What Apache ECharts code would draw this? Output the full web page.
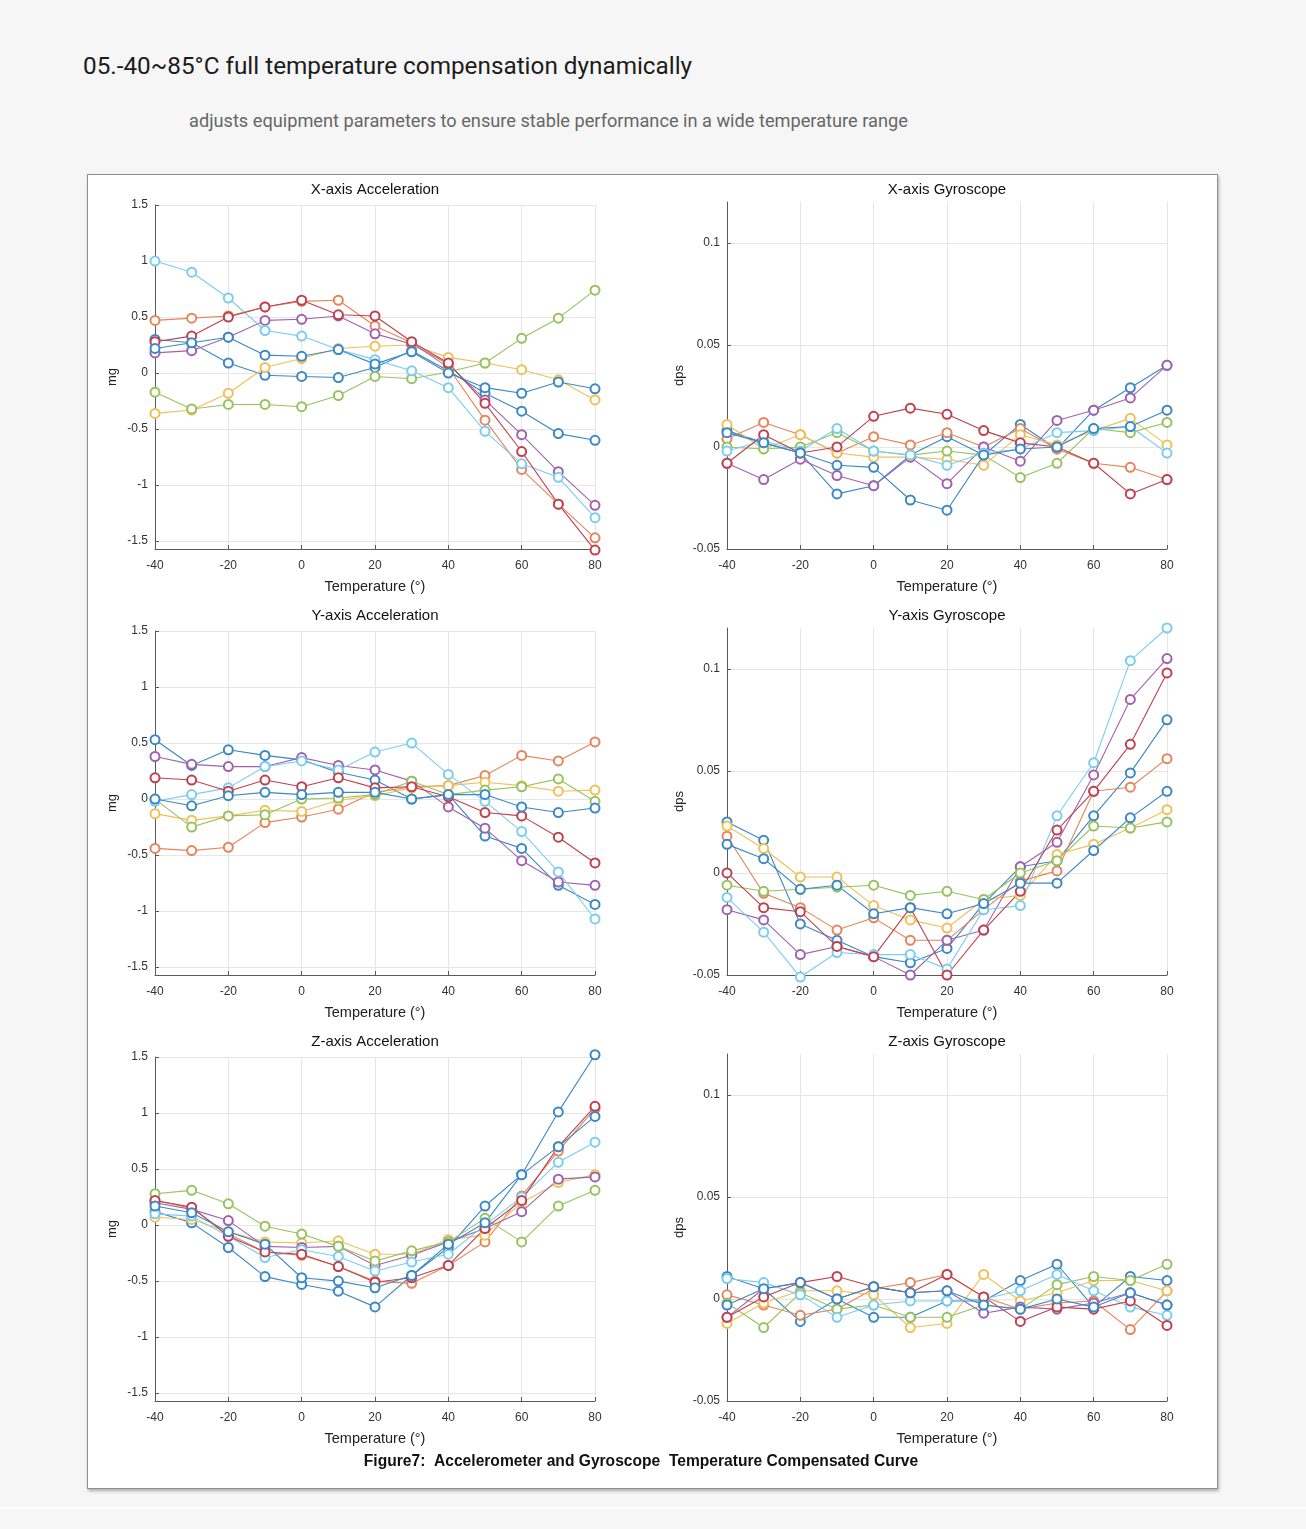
<!DOCTYPE html>
<html>
<head>
<meta charset="utf-8">
<script src="https://cdn.jsdelivr.net/npm/echarts@6/dist/echarts.min.js"></script>
<style>
html,body{margin:0;padding:0;background:#f6f6f6;}
#page{position:relative;width:1306px;height:1529px;overflow:hidden;background:#f6f6f6;}
#band{position:absolute;left:0;top:1507px;width:1306px;height:2px;background:#fdfdfd;}
#panel{position:absolute;left:87px;top:174px;width:1129px;height:1313px;background:#fff;border:1px solid #8f8f8f;box-shadow:1px 2px 3px rgba(0,0,0,0.3);}
#h1{position:absolute;left:83px;top:51px;font-family:Roboto,"Noto Sans",sans-serif;font-size:24.3px;color:#1c1c1c;white-space:nowrap;}
#h2{position:absolute;left:189px;top:110px;font-family:Roboto,"Noto Sans",sans-serif;font-size:18.2px;color:#666;white-space:nowrap;}
#chart{position:absolute;left:0;top:0;width:1306px;height:1529px;}
</style>
</head>
<body>
<div id="page">
  <div id="band"></div>
  <div id="panel"></div>
  <div id="h1">05.-40~85°C full temperature compensation dynamically</div>
  <div id="h2">adjusts equipment parameters to ensure stable performance in a wide temperature range</div>
  <div id="chart"></div>
</div>
<script>
// ---------- data ----------
const temps = [-40, -30, -20, -10, 0, 10, 20, 30, 40, 50, 60, 70, 80];
const tempTicks = [-40, -20, 0, 20, 40, 60, 80];
const accTicks = [-1.5, -1, -0.5, 0, 0.5, 1, 1.5];
const gyroTicks = [-0.05, 0, 0.05, 0.1];

// X-axis Acceleration (mg)
const xAccBlue   = [0.30, 0.27, 0.09, -0.02, -0.03, -0.04, 0.05, 0.20, 0.02, -0.18, -0.34, -0.54, -0.60];
const xAccOrange = [0.47, 0.49, 0.51, 0.59, 0.64, 0.65, 0.42, 0.27, 0.05, -0.42, -0.86, -1.17, -1.47];
const xAccYellow = [-0.36, -0.33, -0.18, 0.05, 0.13, 0.22, 0.24, 0.25, 0.14, 0.09, 0.03, -0.06, -0.24];
const xAccPurple = [0.18, 0.20, 0.32, 0.47, 0.48, 0.51, 0.35, 0.26, 0.08, -0.24, -0.55, -0.88, -1.18];
const xAccGreen  = [-0.17, -0.32, -0.28, -0.28, -0.30, -0.20, -0.03, -0.05, 0.01, 0.09, 0.31, 0.49, 0.74];
const xAccCyan   = [1.00, 0.90, 0.67, 0.38, 0.33, 0.21, 0.12, 0.02, -0.13, -0.52, -0.81, -0.93, -1.29];
const xAccRed    = [0.28, 0.33, 0.50, 0.59, 0.65, 0.52, 0.51, 0.28, 0.09, -0.27, -0.70, -1.17, -1.58];
const xAccBlue2  = [0.22, 0.27, 0.32, 0.16, 0.15, 0.21, 0.08, 0.19, 0.00, -0.13, -0.18, -0.08, -0.14];

// X-axis Gyroscope (dps)
const xGyrBlue   = [0.008, 0.002, -0.003, -0.023, -0.019, -0.004, 0.005, -0.004, 0.011, -0.001, 0.018, 0.029, 0.040];
const xGyrOrange = [0.004, 0.012, 0.006, -0.003, 0.005, 0.001, 0.007, 0.000, 0.009, -0.001, -0.008, -0.010, -0.016];
const xGyrYellow = [0.011, -0.001, 0.006, -0.003, -0.005, -0.005, -0.006, -0.009, 0.006, 0.001, 0.008, 0.014, 0.001];
const xGyrPurple = [-0.008, -0.016, -0.006, -0.014, -0.019, -0.005, -0.018, 0.000, -0.007, 0.013, 0.018, 0.024, 0.040];
const xGyrGreen  = [0.000, -0.001, 0.000, 0.007, -0.002, -0.004, -0.002, -0.004, -0.015, -0.008, 0.009, 0.007, 0.012];
const xGyrCyan   = [-0.002, 0.003, -0.002, 0.009, -0.002, -0.004, -0.009, -0.003, -0.001, 0.007, 0.008, 0.010, -0.003];
const xGyrRed    = [-0.008, 0.006, -0.003, 0.000, 0.015, 0.019, 0.016, 0.008, 0.002, 0.000, -0.008, -0.023, -0.016];
const xGyrBlue2  = [0.007, 0.002, -0.003, -0.009, -0.010, -0.026, -0.031, -0.004, -0.001, 0.000, 0.009, 0.010, 0.018];

// Y-axis Acceleration (mg)
const yAccBlue   = [0.53, 0.30, 0.44, 0.39, 0.35, 0.24, 0.17, 0.00, 0.04, -0.33, -0.44, -0.77, -0.94];
const yAccOrange = [-0.44, -0.46, -0.43, -0.21, -0.16, -0.09, 0.06, 0.11, 0.12, 0.21, 0.39, 0.34, 0.51];
const yAccYellow = [-0.13, -0.19, -0.15, -0.10, -0.11, -0.01, 0.03, 0.10, 0.12, 0.15, 0.12, 0.07, 0.08];
const yAccPurple = [0.38, 0.31, 0.29, 0.29, 0.37, 0.30, 0.26, 0.16, -0.07, -0.26, -0.55, -0.74, -0.77];
const yAccGreen  = [0.00, -0.25, -0.15, -0.14, 0.00, 0.01, 0.04, 0.16, 0.04, 0.08, 0.11, 0.18, -0.02];
const yAccCyan   = [-0.02, 0.04, 0.10, 0.29, 0.34, 0.26, 0.42, 0.50, 0.22, -0.02, -0.29, -0.65, -1.07];
const yAccRed    = [0.19, 0.17, 0.07, 0.17, 0.11, 0.19, 0.10, 0.11, 0.02, -0.12, -0.15, -0.34, -0.57];
const yAccBlue2  = [0.00, -0.06, 0.03, 0.06, 0.04, 0.06, 0.06, 0.00, 0.04, 0.04, -0.07, -0.12, -0.08];

// Y-axis Gyroscope (dps)
const yGyrBlue   = [0.025, 0.016, -0.025, -0.033, -0.041, -0.044, -0.037, -0.015, 0.003, 0.006, 0.028, 0.049, 0.075];
const yGyrOrange = [0.018, -0.010, -0.017, -0.028, -0.022, -0.033, -0.033, -0.018, -0.004, 0.001, 0.040, 0.042, 0.056];
const yGyrYellow = [0.023, 0.012, -0.002, -0.002, -0.016, -0.023, -0.027, -0.013, -0.011, 0.009, 0.014, 0.022, 0.031];
const yGyrPurple = [-0.018, -0.023, -0.040, -0.036, -0.041, -0.050, -0.033, -0.028, 0.003, 0.015, 0.048, 0.085, 0.105];
const yGyrGreen  = [-0.006, -0.009, -0.008, -0.007, -0.006, -0.011, -0.009, -0.013, 0.000, 0.006, 0.023, 0.022, 0.025];
const yGyrCyan   = [-0.012, -0.029, -0.051, -0.039, -0.040, -0.040, -0.047, -0.018, -0.016, 0.028, 0.054, 0.104, 0.120];
const yGyrRed    = [0.000, -0.017, -0.019, -0.036, -0.041, -0.017, -0.050, -0.028, -0.009, 0.021, 0.040, 0.063, 0.098];
const yGyrBlue2  = [0.014, 0.007, -0.008, -0.006, -0.020, -0.017, -0.020, -0.015, -0.005, -0.005, 0.011, 0.027, 0.040];

// Z-axis Acceleration (mg)
const zAccBlue   = [0.12, 0.02, -0.20, -0.46, -0.53, -0.59, -0.73, -0.45, -0.20, 0.17, 0.45, 1.01, 1.52];
const zAccOrange = [0.22, 0.15, -0.08, -0.24, -0.27, -0.37, -0.50, -0.52, -0.36, -0.15, 0.26, 0.66, 1.04];
const zAccYellow = [0.07, 0.05, -0.06, -0.15, -0.16, -0.14, -0.26, -0.26, -0.13, -0.09, 0.20, 0.38, 0.45];
const zAccPurple = [0.20, 0.14, 0.04, -0.19, -0.20, -0.19, -0.36, -0.27, -0.15, -0.03, 0.12, 0.41, 0.43];
const zAccGreen  = [0.28, 0.31, 0.19, -0.01, -0.08, -0.19, -0.32, -0.23, -0.15, 0.06, -0.15, 0.17, 0.31];
const zAccCyan   = [0.10, 0.08, -0.10, -0.29, -0.22, -0.28, -0.41, -0.33, -0.26, 0.00, 0.25, 0.56, 0.74];
const zAccRed    = [0.22, 0.16, -0.10, -0.24, -0.26, -0.37, -0.51, -0.47, -0.36, -0.03, 0.22, 0.70, 1.06];
const zAccBlue2  = [0.17, 0.11, -0.06, -0.17, -0.47, -0.50, -0.56, -0.45, -0.17, 0.02, 0.45, 0.70, 0.97];

// Z-axis Gyroscope (dps)
const zGyrBlue   = [0.011, 0.005, -0.011, 0.000, -0.009, -0.009, -0.001, -0.001, 0.009, 0.017, -0.004, 0.011, 0.009];
const zGyrOrange = [0.002, -0.003, -0.008, -0.005, 0.005, 0.008, 0.012, 0.001, -0.005, -0.002, -0.001, -0.015, 0.004];
const zGyrYellow = [-0.012, -0.002, 0.004, 0.004, 0.002, -0.014, -0.012, 0.012, -0.001, 0.003, 0.009, 0.009, 0.004];
const zGyrPurple = [-0.009, 0.005, 0.008, 0.000, 0.006, 0.003, 0.004, -0.007, -0.004, -0.005, -0.002, 0.003, -0.003];
const zGyrGreen  = [-0.002, -0.014, 0.003, -0.005, -0.003, -0.009, -0.009, -0.003, -0.005, 0.007, 0.011, 0.009, 0.017];
const zGyrCyan   = [0.010, 0.008, 0.002, -0.009, -0.003, -0.001, -0.001, 0.000, 0.004, 0.012, 0.004, -0.004, -0.008];
const zGyrRed    = [-0.009, 0.001, 0.008, 0.011, 0.006, 0.003, 0.012, 0.001, -0.011, -0.004, -0.005, -0.001, -0.013];
const zGyrBlue2  = [-0.003, 0.005, 0.008, 0.000, 0.006, 0.003, 0.004, -0.003, -0.005, 0.000, -0.004, 0.003, -0.003];

const plotTitles = ['X-axis Acceleration', 'X-axis Gyroscope', 'Y-axis Acceleration', 'Y-axis Gyroscope', 'Z-axis Acceleration', 'Z-axis Gyroscope'];
const yNames = ['mg', 'dps', 'mg', 'dps', 'mg', 'dps'];
const xName = 'Temperature (°)';
const caption = 'Figure7:  Accelerometer and Gyroscope  Temperature Compensated Curve';

const plotSeries = [
  [xAccBlue, xAccOrange, xAccYellow, xAccPurple, xAccGreen, xAccCyan, xAccRed, xAccBlue2],
  [xGyrBlue, xGyrOrange, xGyrYellow, xGyrPurple, xGyrGreen, xGyrCyan, xGyrRed, xGyrBlue2],
  [yAccBlue, yAccOrange, yAccYellow, yAccPurple, yAccGreen, yAccCyan, yAccRed, yAccBlue2],
  [yGyrBlue, yGyrOrange, yGyrYellow, yGyrPurple, yGyrGreen, yGyrCyan, yGyrRed, yGyrBlue2],
  [zAccBlue, zAccOrange, zAccYellow, zAccPurple, zAccGreen, zAccCyan, zAccRed, zAccBlue2],
  [zGyrBlue, zGyrOrange, zGyrYellow, zGyrPurple, zGyrGreen, zGyrCyan, zGyrRed, zGyrBlue2]
];

// ---------- styling / layout ----------
const palette = ['#3a88c6', '#e6845a', '#efc058', '#a062ae', '#98c25e', '#7bcdf0', '#c0404f', '#3a88c6'];
const FONT = '"Liberation Sans", Arial, sans-serif';
const axisColor = '#5a5a5a';
const gridColor = '#e6e6e6';
const ROW = 426;

const grids = [], xAxes = [], yAxes = [], series = [], graphics = [];
for (let i = 0; i < 6; i++) {
  const row = Math.floor(i / 2), isGyro = i % 2 === 1;
  const left = isGyro ? 727 : 155;
  const top = isGyro ? 202 + ROW * row : 205 + ROW * row;
  const height = isGyro ? 347 : 344;
  grids.push({ left: left, top: top, width: 440, height: height, containLabel: false });
  xAxes.push({
    type: 'value', gridIndex: i, min: -40, max: 80, interval: 20,
    name: xName, nameLocation: 'middle', nameGap: 30,
    nameTextStyle: { fontFamily: FONT, fontSize: 14.5, color: '#222' },
    axisLine: { onZero: false, lineStyle: { color: axisColor, width: 1 } },
    axisTick: { inside: true, length: 4, lineStyle: { color: axisColor } },
    axisLabel: { margin: 11, fontFamily: FONT, fontSize: 12, color: '#333' },
    splitLine: { show: true, lineStyle: { color: gridColor, width: 1 } }
  });
  const ticks = isGyro ? gyroTicks : accTicks;
  yAxes.push({
    type: 'value', gridIndex: i,
    min: isGyro ? -0.05 : -1.57, max: isGyro ? 0.12 : 1.5,
    name: yNames[i], nameLocation: 'middle', nameGap: isGyro ? 41 : 36,
    nameTextStyle: { fontFamily: FONT, fontSize: 13, color: '#222' },
    axisLine: { show: true, onZero: false, lineStyle: { color: axisColor, width: 1 } },
    axisTick: { show: true, inside: true, length: 4, customValues: ticks, lineStyle: { color: axisColor } },
    axisLabel: { margin: 7, fontFamily: FONT, fontSize: 12, color: '#333', customValues: ticks },
    splitLine: { show: true, lineStyle: { color: gridColor, width: 1 } }
  });
  graphics.push({
    type: 'text', x: left + 220, y: 190 + ROW * row, z: 100,
    style: { text: plotTitles[i], font: '15px ' + FONT, fill: '#111', textAlign: 'center', textVerticalAlign: 'middle' }
  });
  plotSeries[i].forEach(function (arr, k) {
    series.push({
      type: 'line', xAxisIndex: i, yAxisIndex: i, clip: false,
      data: temps.map(function (t, j) { return [t, arr[j]]; }),
      symbol: 'emptyCircle', symbolSize: 9,
      lineStyle: { color: palette[k], width: 1.1 },
      itemStyle: { color: palette[k], borderColor: palette[k], borderWidth: 1.1 },
      emphasis: { disabled: true }, animation: false, silent: true
    });
  });
}
graphics.push({
  type: 'text', x: 641, y: 1462, z: 100,
  style: { text: caption, font: 'bold 15.6px ' + FONT, fill: '#111', textAlign: 'center', textVerticalAlign: 'middle' }
});

const chart = echarts.init(document.getElementById('chart'), null, { renderer: 'canvas' });
chart.setOption({
  backgroundColor: 'transparent',
  animation: false,
  grid: grids, xAxis: xAxes, yAxis: yAxes, series: series,
  graphic: { elements: graphics }
});
</script>
</body>
</html>
